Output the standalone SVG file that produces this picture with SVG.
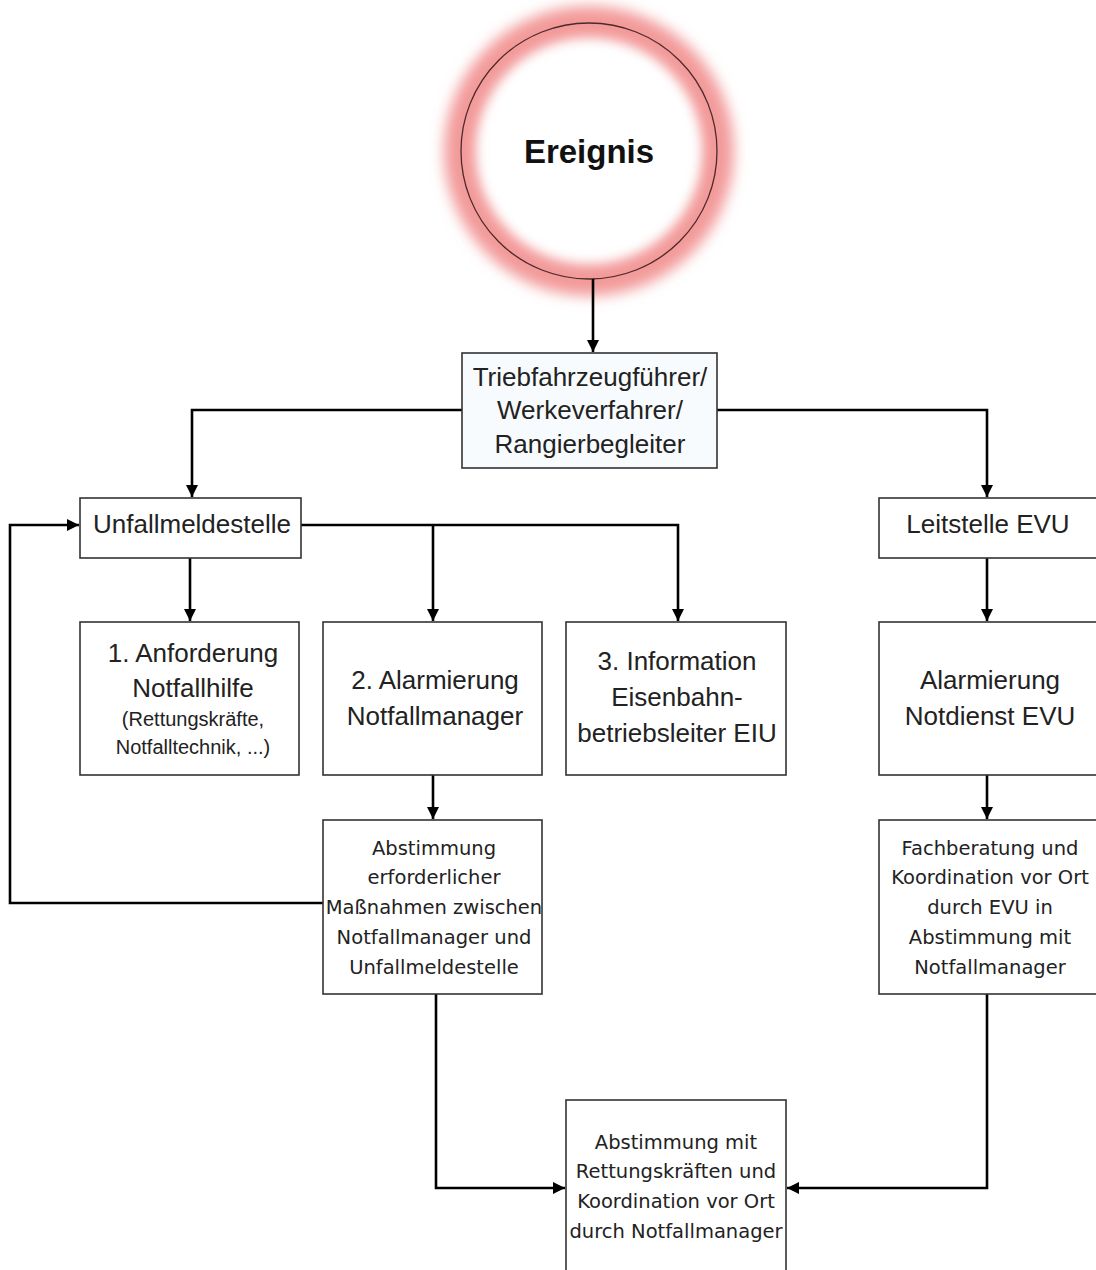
<svg xmlns="http://www.w3.org/2000/svg" width="1096" height="1270" viewBox="0 0 1096 1270">
<defs>
<marker id="ah" viewBox="0 0 10 10" refX="10" refY="5" markerWidth="12" markerHeight="12" markerUnits="userSpaceOnUse" orient="auto">
<path d="M0,0 L10,5 L0,10 z" fill="#000"/>
</marker>
<filter id="glow" x="-30%" y="-30%" width="160%" height="160%"><feGaussianBlur stdDeviation="7"/></filter>
<filter id="soft" x="-30%" y="-30%" width="160%" height="160%"><feGaussianBlur stdDeviation="7"/></filter>
<style>
.box{fill:#fff;stroke:#333;stroke-width:1.6}
.big{font-family:"Liberation Sans",Arial,sans-serif;font-size:26px;fill:#222;text-anchor:middle}
.sm{font-family:"Liberation Sans",Arial,sans-serif;font-size:20px;fill:#222;text-anchor:middle}
.mono{font-family:"DejaVu Sans",sans-serif;font-size:19.5px;fill:#222;text-anchor:middle}
.con{fill:none;stroke:#000;stroke-width:2.6}
</style>
</defs>
<rect width="1096" height="1270" fill="#fff"/>
<g id="ereignis">
<circle cx="589" cy="151" r="128" fill="none" stroke="#f39a9a" stroke-width="34" filter="url(#glow)"/>
<circle cx="589" cy="151" r="108" fill="#fff" filter="url(#soft)"/>
<circle cx="589" cy="151" r="128" fill="none" stroke="#4a2a2a" stroke-width="1.3"/>
<text x="589" y="163" font-family="Liberation Sans,Arial,sans-serif" font-size="33" font-weight="bold" text-anchor="middle" fill="#111">Ereignis</text>
</g>
<g id="connectors">
<path class="con" d="M593,279 V352" marker-end="url(#ah)"/>
<path class="con" d="M462,410 H192 V497" marker-end="url(#ah)"/>
<path class="con" d="M717,410 H987 V497" marker-end="url(#ah)"/>
<path class="con" d="M190,558 V621" marker-end="url(#ah)"/>
<path class="con" d="M301,525 H678 V621" marker-end="url(#ah)"/>
<path class="con" d="M433,525 V621" marker-end="url(#ah)"/>
<path class="con" d="M433,775 V819" marker-end="url(#ah)"/>
<path class="con" d="M323,903 H10 V525 H79" marker-end="url(#ah)"/>
<path class="con" d="M436,994 V1188 H565" marker-end="url(#ah)"/>
<path class="con" d="M987,558 V621" marker-end="url(#ah)"/>
<path class="con" d="M987,775 V819" marker-end="url(#ah)"/>
<path class="con" d="M987,994 V1188 H787" marker-end="url(#ah)"/>
</g>
<g id="tfz">
<rect class="box" x="462" y="353" width="255" height="115" style="fill:#f8fbfd"/>
<text class="big" x="590" y="386">Triebfahrzeugführer/</text>
<text class="big" x="590" y="419">Werkeverfahrer/</text>
<text class="big" x="590" y="453">Rangierbegleiter</text>
</g>
<g id="unfallmeldestelle">
<rect class="box" x="80" y="498" width="221" height="60"/>
<text class="big" x="192" y="533">Unfallmeldestelle</text>
</g>
<g id="leitstelle">
<rect class="box" x="879" y="498" width="222" height="60"/>
<text class="big" x="988" y="533">Leitstelle EVU</text>
</g>
<g id="anforderung">
<rect class="box" x="80" y="622" width="219" height="153"/>
<text class="big" x="193" y="662">1. Anforderung</text>
<text class="big" x="193" y="697">Notfallhilfe</text>
<text class="sm" x="193" y="726">(Rettungskräfte,</text>
<text class="sm" x="193" y="754">Notfalltechnik, ...)</text>
</g>
<g id="alarmierung-nfm">
<rect class="box" x="323" y="622" width="219" height="153"/>
<text class="big" x="435" y="689">2. Alarmierung</text>
<text class="big" x="435" y="725">Notfallmanager</text>
</g>
<g id="information">
<rect class="box" x="566" y="622" width="220" height="153"/>
<text class="big" x="677" y="670">3. Information</text>
<text class="big" x="677" y="706">Eisenbahn-</text>
<text class="big" x="677" y="742">betriebsleiter EIU</text>
</g>
<g id="alarmierung-evu">
<rect class="box" x="879" y="622" width="222" height="153"/>
<text class="big" x="990" y="689">Alarmierung</text>
<text class="big" x="990" y="725">Notdienst EVU</text>
</g>
<g id="abstimmung">
<rect class="box" x="323" y="820" width="219" height="174"/>
<text class="mono" x="434" y="855">Abstimmung</text>
<text class="mono" x="434" y="884">erforderlicher</text>
<text class="mono" x="434" y="914">Maßnahmen zwischen</text>
<text class="mono" x="434" y="944">Notfallmanager und</text>
<text class="mono" x="434" y="974">Unfallmeldestelle</text>
</g>
<g id="fachberatung">
<rect class="box" x="879" y="820" width="222" height="174"/>
<text class="mono" x="990" y="855">Fachberatung und</text>
<text class="mono" x="990" y="884">Koordination vor Ort</text>
<text class="mono" x="990" y="914">durch EVU in</text>
<text class="mono" x="990" y="944">Abstimmung mit</text>
<text class="mono" x="990" y="974">Notfallmanager</text>
</g>
<g id="koordination">
<rect class="box" x="566" y="1100" width="220" height="180"/>
<text class="mono" x="676" y="1149">Abstimmung mit</text>
<text class="mono" x="676" y="1178">Rettungskräften und</text>
<text class="mono" x="676" y="1208">Koordination vor Ort</text>
<text class="mono" x="676" y="1238">durch Notfallmanager</text>
</g>
</svg>
